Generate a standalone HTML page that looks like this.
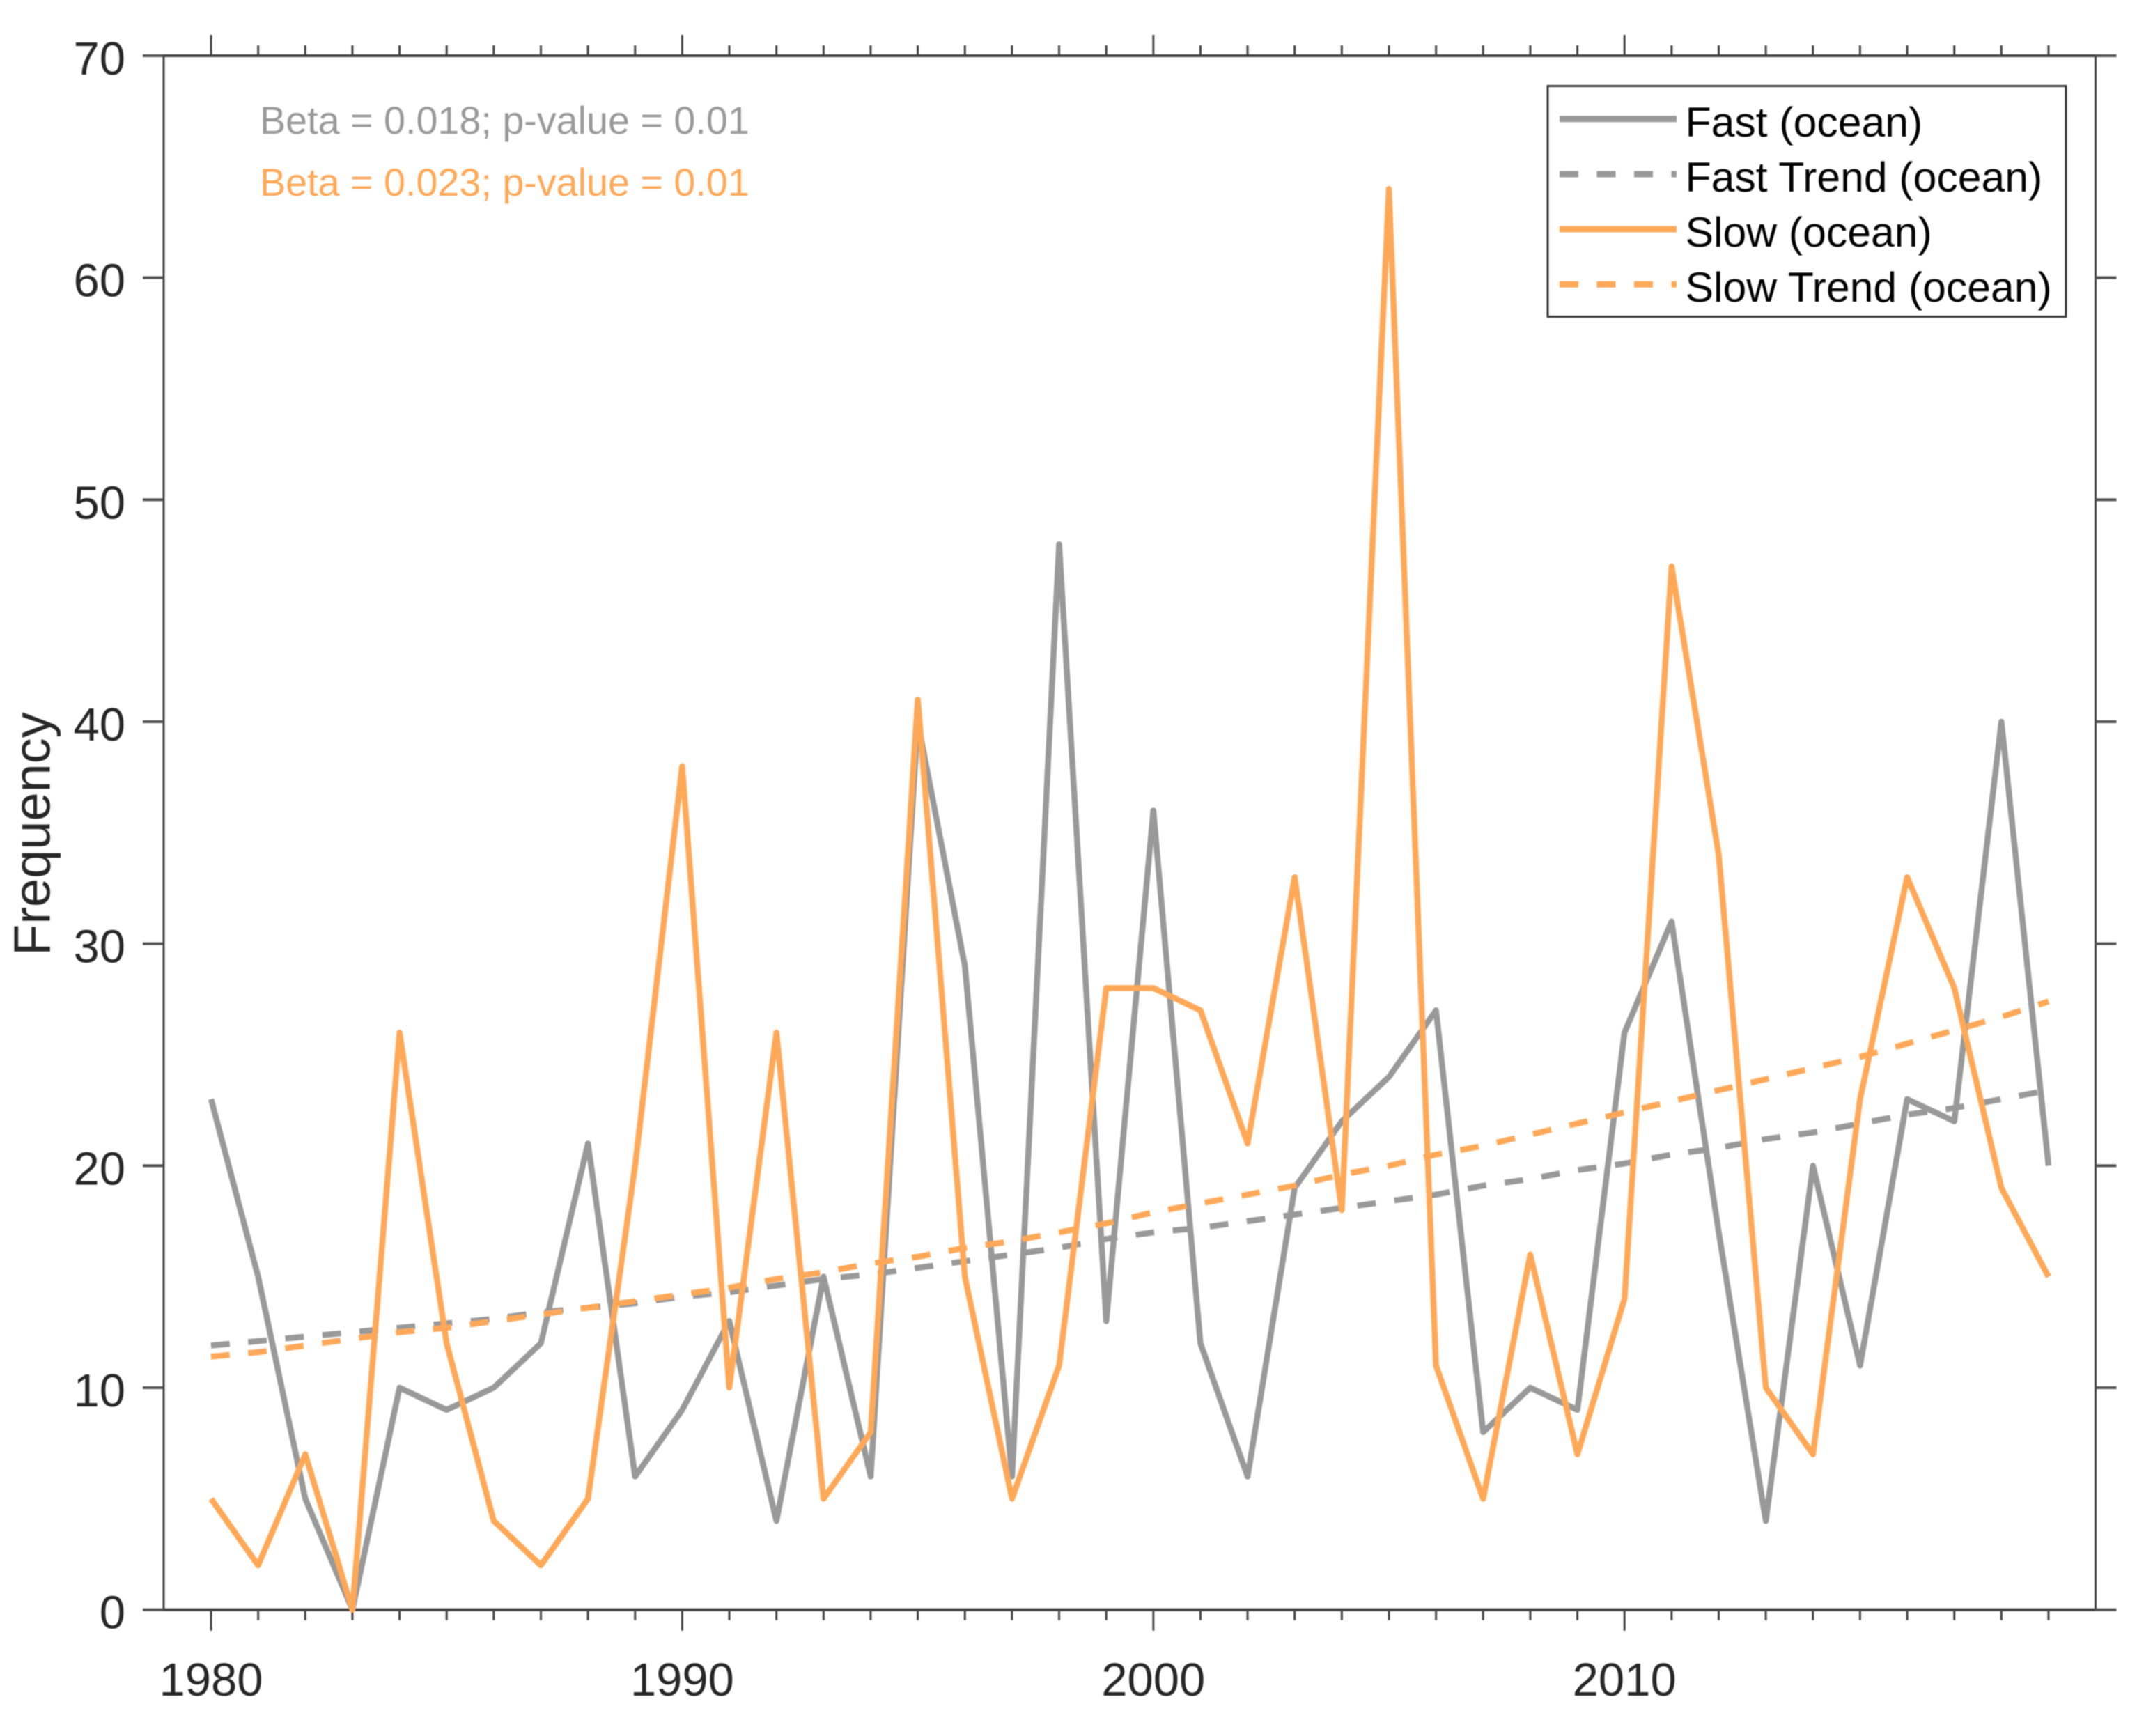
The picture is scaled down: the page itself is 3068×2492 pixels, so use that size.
<!DOCTYPE html>
<html lang="en">
<head>
<meta charset="utf-8">
<title>Fast and slow frequency (ocean)</title>
<style>
html,body{margin:0;padding:0;background:#fff;}
body{width:3068px;height:2492px;overflow:hidden;}
svg{display:block;font-family:"Liberation Sans",Arial,sans-serif;filter:blur(0.7px);}
</style>
</head>
<body>
<svg id="chart" xmlns="http://www.w3.org/2000/svg" width="3068" height="2492" viewBox="0 0 3068 2492">
  <rect x="0" y="0" width="3068" height="2492" fill="#ffffff"/>
  <g id="axes"></g>
  <g id="series"></g>
  <text transform="translate(71.5,1197) rotate(-90)" text-anchor="middle" font-size="74" fill="#262626">Frequency</text>
  <text x="373" y="192" font-size="55.7" fill="#999999">Beta = 0.018; p-value = 0.01</text>
  <text x="373" y="281" font-size="55.7" fill="#ffa858">Beta = 0.023; p-value = 0.01</text>
  <g>
    <rect x="2222" y="123.5" width="744" height="331" fill="#ffffff" stroke="#333333" stroke-width="3"/>
    <g>
      <line x1="2239" x2="2407" y1="170.7" y2="170.7" stroke="#999999" stroke-width="9"/>
      <text x="2419.5" y="196" font-size="60.7" fill="#000000">Fast (ocean)</text>
    </g>
    <g>
      <line x1="2239" x2="2407" y1="250" y2="250" stroke="#999999" stroke-width="9" stroke-dasharray="27 26.5"/>
      <text x="2419.5" y="275" font-size="60.7" fill="#000000">Fast Trend (ocean)</text>
    </g>
    <g>
      <line x1="2239" x2="2407" y1="329" y2="329" stroke="#ffa858" stroke-width="9"/>
      <text x="2419.5" y="354" font-size="60.7" fill="#000000">Slow (ocean)</text>
    </g>
    <g>
      <line x1="2239" x2="2407" y1="408.3" y2="408.3" stroke="#ffa858" stroke-width="9" stroke-dasharray="27 26.5"/>
      <text x="2419.5" y="433" font-size="60.7" fill="#000000">Slow Trend (ocean)</text>
    </g>
  </g>
</svg>
<script>
const years = [1980,1981,1982,1983,1984,1985,1986,1987,1988,1989,1990,1991,1992,1993,1994,1995,1996,1997,1998,1999,2000,2001,2002,2003,2004,2005,2006,2007,2008,2009,2010,2011,2012,2013,2014,2015,2016,2017,2018,2019];
const fastValues = [23,15,5,0,10,9,10,12,21,6,9,13,4,15,6,40,29,6,48,13,36,12,6,19,22,24,27,8,10,9,26,31,17,4,20,11,23,22,40,20];
const slowValues = [5,2,7,0,26,12,4,2,5,20,38,10,26,5,8,41,15,5,11,28,28,27,21,33,18,64,11,5,16,7,14,47,34,10,7,23,33,28,19,15];
const fastTrendValues = [11.9,12.1,12.3,12.5,12.7,12.9,13.1,13.4,13.6,13.8,14.1,14.3,14.6,14.9,15.1,15.4,15.7,16.0,16.3,16.7,17.0,17.2,17.5,17.8,18.1,18.4,18.7,19.1,19.4,19.8,20.1,20.5,20.8,21.2,21.5,21.9,22.3,22.6,23.0,23.4];
const slowTrendValues = [11.4,11.6,11.9,12.2,12.5,12.7,13.0,13.3,13.6,13.9,14.2,14.5,14.9,15.2,15.6,15.9,16.3,16.6,17.0,17.4,17.9,18.3,18.7,19.1,19.6,20.0,20.5,20.9,21.4,21.9,22.4,22.9,23.4,23.9,24.4,24.9,25.5,26.1,26.7,27.4];
const yTickLabels = [0,10,20,30,40,50,60,70];
const xMajorTickLabels = [1980,1990,2000,2010];

const NS = 'http://www.w3.org/2000/svg';
const plotLeft = 235, plotRight = 3008.5, plotTop = 80, plotBottom = 2310.7;
const firstYearX = 303, yearStep = 67.64;
function xScale(year){ return firstYearX + (year - 1980) * yearStep; }
function yScale(v){ return plotBottom - (v / 70) * (plotBottom - plotTop); }

const axes = document.getElementById('axes');
const seriesLayer = document.getElementById('series');

function makeLine(x1, y1, x2, y2, color, width){
  const l = document.createElementNS(NS, 'line');
  l.setAttribute('x1', x1);
  l.setAttribute('y1', y1);
  l.setAttribute('x2', x2);
  l.setAttribute('y2', y2);
  l.setAttribute('stroke', color);
  l.setAttribute('stroke-width', width);
  return l;
}

// Axis frame
const spineLeft = makeLine(plotLeft, plotTop, plotLeft, plotBottom, '#404040', 3);


axes.appendChild(spineLeft);
const spineRight = makeLine(plotRight, plotTop, plotRight, plotBottom, '#404040', 3);


axes.appendChild(spineRight);
const spineTop = makeLine(plotLeft, plotTop, plotRight, plotTop, '#404040', 4);


axes.appendChild(spineTop);
const spineBottom = makeLine(plotLeft, plotBottom, plotRight, plotBottom, '#404040', 4);


axes.appendChild(spineBottom);

// Y ticks and labels (both sides)
yTickLabels.forEach(function(v){
  const y = yScale(v);
  const left = makeLine(plotLeft - 30, y, plotLeft, y, '#505050', 4);
  
  
  axes.appendChild(left);
  const right = makeLine(plotRight, y, plotRight + 30, y, '#505050', 4);
  
  
  axes.appendChild(right);
  const t = document.createElementNS(NS, 'text');
  
  
  t.setAttribute('x', 180);
  t.setAttribute('y', y + 27);
  t.setAttribute('text-anchor', 'end');
  t.setAttribute('font-size', 67);
  t.setAttribute('fill', '#262626');
  t.textContent = String(v);
  axes.appendChild(t);
});

// X ticks (top and bottom)
years.forEach(function(yr){
  const x = xScale(yr);
  const major = xMajorTickLabels.indexOf(yr) >= 0;
  const len = major ? 30 : 15;
  const bottom = makeLine(x, plotBottom, x, plotBottom + len, '#404040', 3);
  
  
  axes.appendChild(bottom);
  const top = makeLine(x, plotTop - len, x, plotTop, '#404040', 3);
  
  
  axes.appendChild(top);
});

// X tick labels
xMajorTickLabels.forEach(function(yr){
  const t = document.createElementNS(NS, 'text');
  
  
  t.setAttribute('x', xScale(yr));
  t.setAttribute('y', 2434);
  t.setAttribute('text-anchor', 'middle');
  t.setAttribute('font-size', 67);
  t.setAttribute('fill', '#262626');
  t.textContent = String(yr);
  axes.appendChild(t);
});

function pathFrom(values){
  return values.map(function(v, i){
    return (i === 0 ? 'M' : 'L') + xScale(years[i]).toFixed(1) + ' ' + yScale(v).toFixed(1);
  }).join(' ');
}

// Series, drawn in legend order so orange sits above grey
const fastPath = document.createElementNS(NS, 'path');


fastPath.setAttribute('d', pathFrom(fastValues));
fastPath.setAttribute('fill', 'none');
fastPath.setAttribute('stroke', '#999999');
fastPath.setAttribute('stroke-width', 8.5);
fastPath.setAttribute('stroke-linejoin', 'round');
seriesLayer.appendChild(fastPath);

const fastTrendPath = document.createElementNS(NS, 'path');


fastTrendPath.setAttribute('d', pathFrom(fastTrendValues));
fastTrendPath.setAttribute('fill', 'none');
fastTrendPath.setAttribute('stroke', '#999999');
fastTrendPath.setAttribute('stroke-width', 8.5);
fastTrendPath.setAttribute('stroke-dasharray', '26.8 26.7');
seriesLayer.appendChild(fastTrendPath);

const slowPath = document.createElementNS(NS, 'path');


slowPath.setAttribute('d', pathFrom(slowValues));
slowPath.setAttribute('fill', 'none');
slowPath.setAttribute('stroke', '#ffa858');
slowPath.setAttribute('stroke-width', 8.5);
slowPath.setAttribute('stroke-linejoin', 'round');
seriesLayer.appendChild(slowPath);

const slowTrendPath = document.createElementNS(NS, 'path');


slowTrendPath.setAttribute('d', pathFrom(slowTrendValues));
slowTrendPath.setAttribute('fill', 'none');
slowTrendPath.setAttribute('stroke', '#ffa858');
slowTrendPath.setAttribute('stroke-width', 8.5);
slowTrendPath.setAttribute('stroke-dasharray', '26.8 26.7');
seriesLayer.appendChild(slowTrendPath);
</script>
</body>
</html>
